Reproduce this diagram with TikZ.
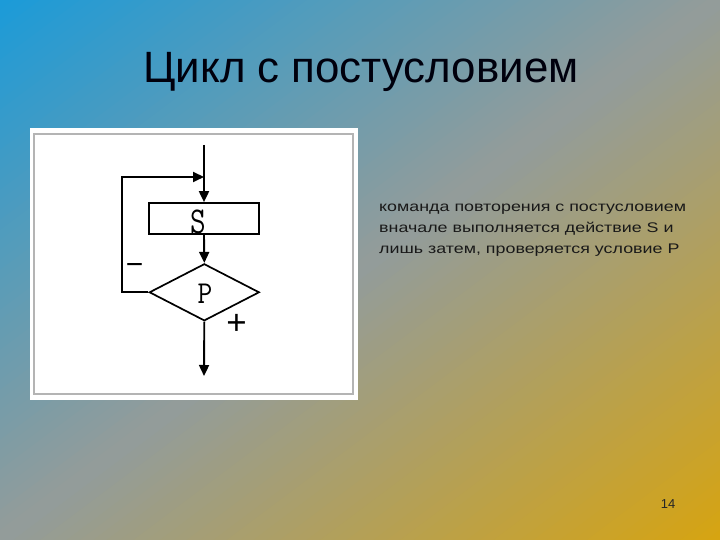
\documentclass[tikz,border=0pt]{standalone}
\usepackage{fontspec}
\usetikzlibrary{shapes.geometric,arrows.meta}
\newfontfamily\titlefont{Liberation Sans}
\newfontfamily\bodyfont[FakeStretch=1.28]{Liberation Sans}
\definecolor{bgblue}{HTML}{1C9BD8}
\definecolor{bggray}{HTML}{939C9A}
\definecolor{bggold}{HTML}{D6A412}
\definecolor{framegray}{HTML}{B4B4B4}
\tikzset{
  line/.style={line width=1.9bp, draw=black},
  arr/.style={line, -{Triangle[length=11bp,width=10bp]}},
  actionbox/.style={draw=black, line width=1.9bp, minimum width=110bp, minimum height=31bp, inner sep=0pt},
  condbox/.style={diamond, draw=black, line width=1.7bp, minimum width=110bp, minimum height=57bp, aspect=1.93, inner sep=0pt},
  bodytext/.style={font=\fontsize{14}{16}\bodyfont, text=black!90, anchor=base west, inner sep=0pt},
  signtext/.style={text=black, inner sep=0pt},
}
\begin{document}
\begin{tikzpicture}[x=1bp,y=1bp]
\useasboundingbox (0,0) rectangle (720,540);
% background: diagonal gradient drawn as thin strips
\begin{scope}
  \clip (0,0) rectangle (720,540);
  \begin{scope}[shift={(360,270)}, rotate=36.87]
    \foreach \i in {0,...,53}{
      \pgfmathsetmacro\ya{432-8*\i}
      \pgfmathsetmacro\yb{\ya-8.8}
      \pgfmathsetmacro\p{100-100*\i/53}
      \fill[bgblue!\p!bggray] (-470,\ya) rectangle (470,\yb);
    }
    \foreach \i in {0,...,53}{
      \pgfmathsetmacro\ya{-8*\i}
      \pgfmathsetmacro\yb{\ya-8.8}
      \pgfmathsetmacro\p{100-100*\i/53}
      \fill[bggray!\p!bggold] (-470,\ya) rectangle (470,\yb);
    }
  \end{scope}
\end{scope}
% title
\node[font=\fontsize{44}{44}\titlefont, text=black!95!blue, anchor=base, inner sep=0pt] (title) at (361,457) {Цикл с постусловием};
% white panel
\node[fill=white, draw=none, minimum width=328bp, minimum height=272bp, inner sep=0pt, anchor=south west] (panel) at (30,140) {};
\node[draw=framegray, line width=1.5bp, minimum width=319bp, minimum height=260bp, inner sep=0pt, anchor=south west] (frame) at (33,145) {};
% flowchart
\coordinate (top) at (204,395);
\coordinate (join) at (204,363);
\coordinate (end) at (204,164);
\node[actionbox] (S) at (204,321.4) {};
\node[font=\fontsize{38}{38}\ttfamily\selectfont, inner sep=0pt] (Stext) at (198,318.5) {\scalebox{0.8}[1]{S}};
\node[condbox] (P) at (204.3,247.7) {};
\node[font=\fontsize{32}{32}\ttfamily\selectfont, inner sep=0pt] (Ptext) at (205,246) {\scalebox{0.9}[1]{P}};
\draw[arr] (top) -- (S.north);
\draw[arr] (P.west) -- (122,247.7) |- (join);
\draw[arr] (S.south) -- (P.north);
\draw[arr] (P.south) -- (end);
\node[signtext, font=\fontsize{30}{30}\titlefont] (minus) at (134.5,271) {−};
\node[signtext, font=\fontsize{35}{35}\titlefont] (plus) at (236.5,216) {+};
% body text
\node[bodytext] (l1) at (379,328) {команда повторения с постусловием};
\node[bodytext] (l2) at (379,307.3) {вначале выполняется действие S и};
\node[bodytext] (l3) at (379,286) {лишь затем, проверяется условие P};
% page number
\node[font=\fontsize{13}{13}\titlefont, text=black!85, inner sep=0pt] (pnum) at (668,36) {14};
\end{tikzpicture}
\end{document}
